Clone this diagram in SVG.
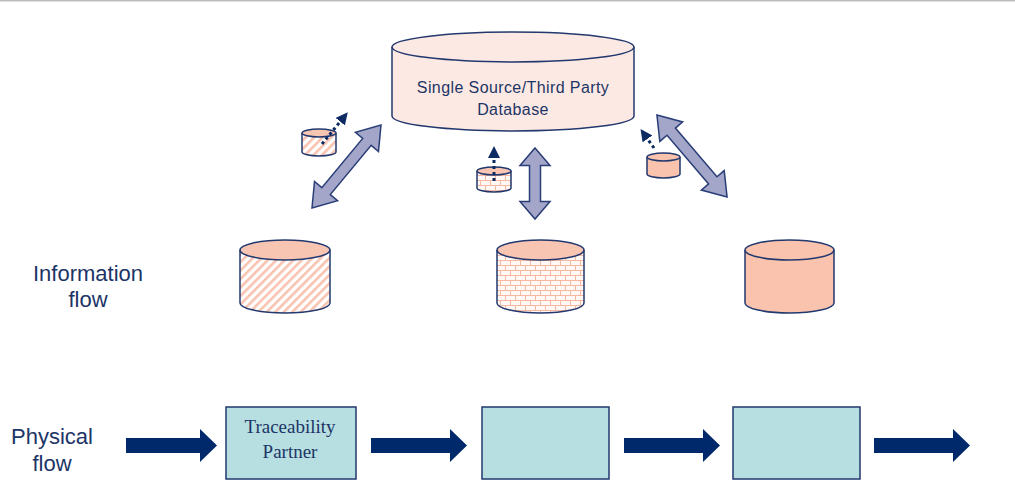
<svg xmlns="http://www.w3.org/2000/svg" width="1015" height="499" viewBox="0 0 1015 499">
<style>
.cyl{stroke:#22386E;stroke-width:1.5}
.lbl{font-family:"Liberation Sans",Arial,sans-serif;fill:#1C3566}
.srf{font-family:"Liberation Serif","Times New Roman",serif;fill:#1C3566;font-size:19px}
.blk{fill:#A3A6C8;stroke:#2A3E78;stroke-width:1.5}
.phys{fill:#00296B}
.box{fill:#B7DFE1;stroke:#22386E;stroke-width:1.5}
.dot{stroke:#0E2A63;stroke-width:3;stroke-dasharray:3 3;fill:none}
</style>
<defs>
<pattern id="hatch" width="6" height="6" patternUnits="userSpaceOnUse" patternTransform="rotate(45)">
<rect width="6" height="6" fill="#FFFFFF"/>
<rect width="2.6" height="6" fill="#F8C2AE"/>
</pattern>
<pattern id="brick" width="10" height="10" patternUnits="userSpaceOnUse">
<rect width="10" height="10" fill="#FFF8F5"/>
<path d="M0,0.5H10M0,5.5H10M0.5,0V5M5.5,5V10" stroke="#F6B8A0" stroke-width="1" fill="none"/>
</pattern>
<marker id="ah" viewBox="0 0 10 10" refX="5" refY="5" markerWidth="4" markerHeight="4" orient="auto" markerUnits="strokeWidth">
<path d="M0,0L10,5L0,10Z" fill="#0E2A63"/>
</marker>
</defs>
<rect width="1015" height="499" fill="#FFFFFF"/>
<rect x="0" y="0" width="1015" height="1.5" fill="#BDBDBD"/>

<g id="main-db">
<path class="cyl" d="M392,47V116A121,15 0 0 0 634,116V47" fill="#FDE9E3"/>
<ellipse class="cyl" cx="513" cy="47" rx="121" ry="15" fill="#FDE9E3"/>
<text class="lbl" font-size="16" letter-spacing="0.4" text-anchor="middle" x="513" y="93">Single Source/Third Party</text>
<text class="lbl" font-size="16" letter-spacing="0.4" text-anchor="middle" x="513" y="115">Database</text>
</g>

<g id="db-hatch">
<path class="cyl" d="M240,250V303A45,10 0 0 0 330,303V250" fill="url(#hatch)"/>
<ellipse class="cyl" cx="285" cy="250" rx="45" ry="10" fill="#F8C5B2"/>
</g>
<g id="db-brick">
<path class="cyl" d="M497,250V303A43.5,10 0 0 0 584,303V250" fill="url(#brick)"/>
<ellipse class="cyl" cx="540.5" cy="250" rx="43.5" ry="10" fill="#F8C5B2"/>
</g>
<g id="db-solid">
<path class="cyl" d="M745,250V303A44.5,10 0 0 0 834,303V250" fill="#F9C3AE"/>
<ellipse class="cyl" cx="789.5" cy="250" rx="44.5" ry="10" fill="#F9C3AE"/>
</g>

<g id="mini-hatch">
<path class="cyl" d="M302,133V152A17,4 0 0 0 336,152V133" fill="url(#hatch)"/>
<ellipse class="cyl" cx="319" cy="133" rx="17" ry="4" fill="#F8C5B2"/>
</g>
<g id="mini-brick">
<path class="cyl" d="M477,171V188A17,4 0 0 0 511,188V171" fill="url(#brick)"/>
<ellipse class="cyl" cx="494" cy="171" rx="17" ry="4" fill="#F8C5B2"/>
</g>
<g id="mini-solid">
<path class="cyl" d="M647,157V174A16.5,4 0 0 0 680,174V157" fill="#F9C3AE"/>
<ellipse class="cyl" cx="663.5" cy="157" rx="16.5" ry="4" fill="#F9C3AE"/>
</g>

<g id="connectors">
<path class="dot" d="M322,144L344,117" marker-end="url(#ah)"/>
<path class="dot" d="M494,181V152" marker-end="url(#ah)"/>
<path class="dot" d="M654,148L644,134" marker-end="url(#ah)"/>

<path class="blk" transform="translate(346.5,166.5) rotate(-50.3)" d="M-54,0L-32,-15L-32,-5.5L32,-5.5L32,-15L54,0L32,15L32,5.5L-32,5.5L-32,15Z"/>
<path class="blk" transform="translate(535,183.5) rotate(90)" d="M-35.5,0L-18,-15L-18,-5.5L18,-5.5L18,-15L35.5,0L18,15L18,5.5L-18,5.5L-18,15Z"/>
<path class="blk" transform="translate(692,156) rotate(49.5)" d="M-54,0L-32,-15L-32,-5.5L32,-5.5L32,-15L54,0L32,15L32,5.5L-32,5.5L-32,15Z"/>

<path class="phys" d="M126,438H200V429L217,445.5L200,462V453H126Z"/>
<path class="phys" d="M371,438H450V429L467,445.5L450,462V453H371Z"/>
<path class="phys" d="M624,438H703V429L720,445.5L703,462V453H624Z"/>
<path class="phys" d="M874,438H953V429L970,445.5L953,462V453H874Z"/>
</g>

<g id="label-info">
<text class="lbl" font-size="22" text-anchor="middle" x="88" y="281">Information</text>
<text class="lbl" font-size="22" text-anchor="middle" x="88" y="307">flow</text>
</g>
<g id="label-phys">
<text class="lbl" font-size="22" text-anchor="middle" x="52" y="444">Physical</text>
<text class="lbl" font-size="22" text-anchor="middle" x="52" y="471">flow</text>
</g>

<g id="box1">
<rect class="box" x="226" y="407" width="130" height="72"/>
<text class="srf" text-anchor="middle" x="290" y="433">Traceability</text>
<text class="srf" text-anchor="middle" x="290" y="458">Partner</text>
</g>
<g id="box2"><rect class="box" x="482" y="407" width="127" height="72"/></g>
<g id="box3"><rect class="box" x="733" y="407" width="127" height="72"/></g>
</svg>
